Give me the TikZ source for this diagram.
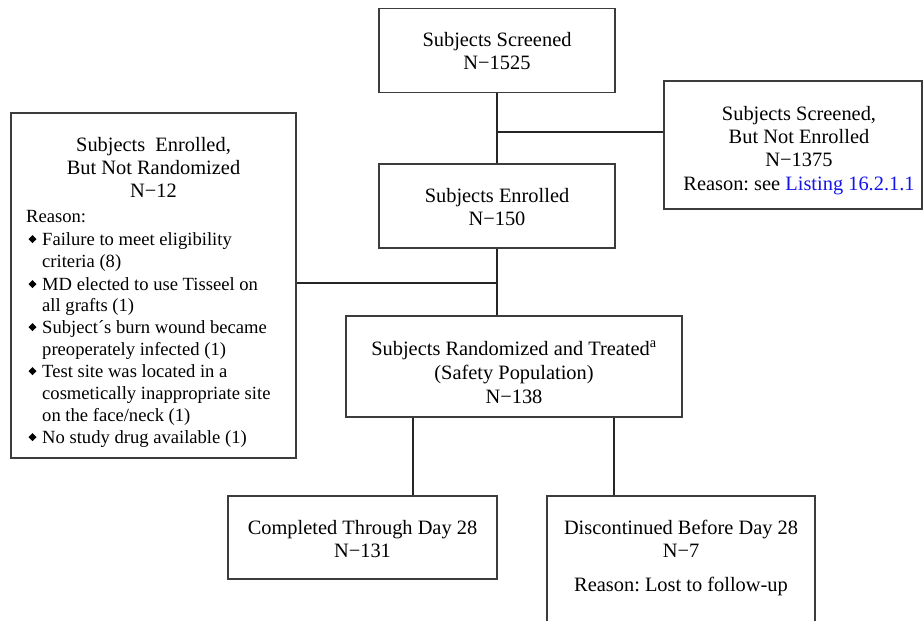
\documentclass[tikz,border=0pt]{standalone}
\usepackage{fontspec}
\setmainfont{Liberation Serif}
\definecolor{linkblue}{RGB}{20,20,235}
\definecolor{boxline}{RGB}{60,60,60}
\begin{document}
\frenchspacing
\begin{tikzpicture}[x=1pt,y=-1pt,
  box/.style={draw=boxline, line width=1.1pt, fill=white, inner sep=0pt, align=center,
    font=\fontsize{20.4}{23.5}\selectfont},
  txt/.style={inner sep=0pt, anchor=base, font=\fontsize{20.4}{23.5}\selectfont},
  ltxt/.style={inner sep=0pt, anchor=base west, font=\fontsize{18.6}{22}\selectfont},
  conn/.style={draw=black!85, line width=1.1pt}]
\useasboundingbox (0,0) rectangle (924,621);
\clip (0,0) rectangle (924,621);
\fill[white] (0,0) rectangle (924,621);

% boxes
\node[box, minimum width=236pt, minimum height=84pt] (scr) at (497,50.5) {};
\node[txt] (scrt1) at (497,46) {Subjects Screened};
\node[txt] (scrt2) at (497,69) {N−1525};

\node[box, minimum width=236pt, minimum height=84pt] (enr) at (497,206) {};
\node[txt] (enrt1) at (497,202) {Subjects Enrolled};
\node[txt] (enrt2) at (497,225) {N−150};

\node[box, minimum width=258pt, minimum height=128pt] (ne) at (793,145) {};
\node[txt] (net1) at (799,120) {Subjects Screened,};
\node[txt] (net2) at (799,143) {But Not Enrolled};
\node[txt] (net3) at (799,166) {N−1375};
\node[txt] (net4) at (799,190) {Reason: see \textcolor{linkblue}{Listing 16.2.1.1}};

\node[box, minimum width=285pt, minimum height=345pt] (lft) at (153.5,285.5) {};
\node[txt] (lt1) at (153.5,151) {Subjects\ \ Enrolled,};
\node[txt] (lt2) at (153.5,174) {But Not Randomized};
\node[txt] (lt3) at (153.5,197) {N−12};
\node[ltxt] (lr) at (26,222) {Reason:};
\foreach \y/\t/\b in {245/{Failure to meet eligibility}/1, 267/{criteria (8)}/0,
  290/{MD elected to use Tisseel on}/1, 311/{all grafts (1)}/0,
  333/{Subject´s burn wound became}/1, 355/{preoperately infected (1)}/0,
  377/{Test site was located in a}/1, 399/{cosmetically inappropriate site}/0,
  421/{on the face/neck (1)}/0, 443/{No study drug available (1)}/1}{
  \node[ltxt] (l\y) at (42,\y) {\t};
  \ifnum\b=1 \fill[black] (32.5,\y-10) -- (36.5,\y-6) -- (32.5,\y-2) -- (28.5,\y-6) -- cycle; \fi
}

\node[box, minimum width=336pt, minimum height=101pt] (rnd) at (514,366.5) {};
\node[txt] (rt1) at (514,355) {Subjects Randomized and Treated\textsuperscript{a}};
\node[txt] (rt2) at (514,379) {(Safety Population)};
\node[txt] (rt3) at (514,403) {N−138};

\node[box, minimum width=269pt, minimum height=83pt] (cmp) at (362.5,537.5) {};
\node[txt] (ct1) at (362.5,534) {Completed Through Day 28};
\node[txt] (ct2) at (362.5,557) {N−131};

\node[box, minimum width=268pt, minimum height=160pt] (dsc) at (681,576) {};
\node[txt] (dt1) at (681,534) {Discontinued Before Day 28};
\node[txt] (dt2) at (681,557) {N−7};
\node[txt] (dt3) at (681,591) {Reason: Lost to follow-up};

% connectors
\coordinate (j1) at (497,132);
\coordinate (j2) at (497,283);
\coordinate (c1) at (413,0);
\coordinate (c2) at (614,0);
\draw[conn] (scr.south) -- (enr.north);
\draw[conn] (j1) -- (j1 -| ne.west);
\draw[conn] (enr.south) -- (enr.south |- rnd.north);
\draw[conn] (j2 -| lft.east) -- (j2);
\draw[conn] (c1 |- rnd.south) -- (c1 |- cmp.north);
\draw[conn] (c2 |- rnd.south) -- (c2 |- dsc.north);
\end{tikzpicture}
\end{document}
